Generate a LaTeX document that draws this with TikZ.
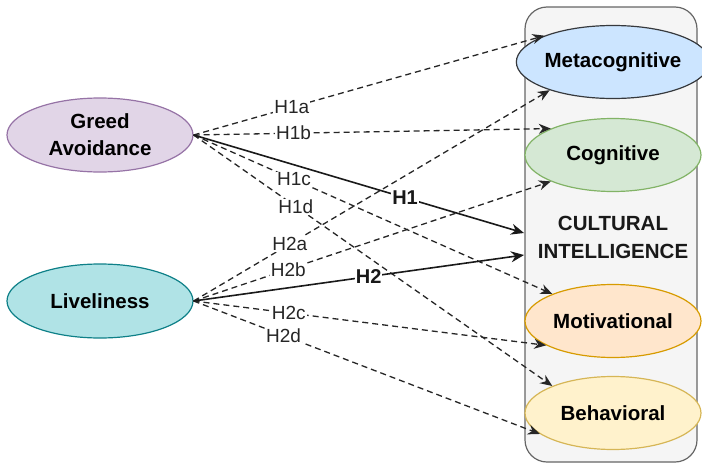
\documentclass[tikz,border=0pt]{standalone}
\usepackage{fontspec}
\setmainfont{Liberation Sans}
\usetikzlibrary{shapes.geometric,arrows.meta}
\definecolor{gaF}{HTML}{E1D5E7}\definecolor{gaD}{HTML}{9673A6}
\definecolor{lvF}{HTML}{B0E3E6}\definecolor{lvD}{HTML}{0E8088}
\definecolor{mcF}{HTML}{CCE5FF}\definecolor{mcD}{HTML}{36393D}
\definecolor{cgF}{HTML}{D5E8D4}\definecolor{cgD}{HTML}{82B366}
\definecolor{mvF}{HTML}{FFE6CC}\definecolor{mvD}{HTML}{D79B00}
\definecolor{bhF}{HTML}{FFF2CC}\definecolor{bhD}{HTML}{D6B656}
\definecolor{ciF}{HTML}{F5F5F5}\definecolor{ciD}{HTML}{666666}
\tikzset{
  oval/.style={ellipse, draw, line width=1.2pt, inner sep=0pt, align=center,
    font=\fontsize{20.5}{27}\selectfont\bfseries},
  srcoval/.style={oval, minimum width=186pt, minimum height=74pt},
  dimoval/.style={oval, minimum width=176pt, minimum height=73pt},
  hyp/.style={dash pattern=on 6pt off 4pt, line width=1.3pt, draw=black!85,
    -{Stealth[length=12pt,width=10pt]}},
  main/.style={line width=1.6pt, draw=black!90, -{Stealth[length=13pt,width=11pt]}},
  lab/.style={fill=white, inner sep=1pt, font=\fontsize{19}{21}\selectfont, text=black!85},
  mlab/.style={fill=white, inner sep=1pt, font=\fontsize{20}{22}\selectfont\bfseries, text=black!90}
}
\begin{document}
\begin{tikzpicture}[x=1pt,y=-1pt]
\useasboundingbox (0,0) rectangle (702,466);
% container
\node[draw=ciD, fill=ciF, line width=1.2pt, rounded corners=22pt,
      minimum width=172pt, minimum height=455pt, inner sep=0pt] (ci) at (611,234.5) {};
\node[font=\fontsize{20.5}{28}\selectfont\bfseries, align=center, text=black!90] (citxt) at (613,237) {CULTURAL\\INTELLIGENCE};
% dimension ellipses
\node[dimoval, fill=mcF, draw=mcD] (meta) at (613,62) {Metacognitive};
\node[dimoval, fill=cgF, draw=cgD] (cog) at (613,155) {Cognitive};
\node[dimoval, fill=mvF, draw=mvD] (mot) at (613,321) {Motivational};
\node[dimoval, fill=bhF, draw=bhD] (beh) at (613,413) {Behavioral};
% sources
\node[srcoval, fill=gaF, draw=gaD] (ga) at (100,135) {Greed\\Avoidance};
\node[srcoval, fill=lvF, draw=lvD] (lv) at (100,301) {Liveliness};
\coordinate (h1end) at (524,233);
\coordinate (h2end) at (524,255);
% H1 family
\draw[hyp] (ga.east) -- node[lab, pos=0.28] {H1a} (meta.159);
\draw[hyp] (ga.east) -- node[lab, pos=0.28] {H1b} (cog.157);
\draw[hyp] (ga.east) -- node[lab, pos=0.28] {H1c} (mot.156);
\draw[hyp] (ga.east) -- node[lab, pos=0.285] {H1d} (beh.156);
% H2 family
\draw[hyp] (lv.east) -- node[lab, pos=0.27] {H2a} (meta.204);
\draw[hyp] (lv.east) -- node[lab, pos=0.265] {H2b} (cog.203);
\draw[hyp] (lv.east) -- node[lab, pos=0.27] {H2c} (mot.200);
\draw[hyp] (lv.east) -- node[lab, pos=0.26] {H2d} (beh.196);
% main effects
\draw[main] (ga.east) -- node[mlab, pos=0.64] {H1} (h1end);
\draw[main] (lv.east) -- node[mlab, pos=0.53] {H2} (h2end);
\end{tikzpicture}
\end{document}
